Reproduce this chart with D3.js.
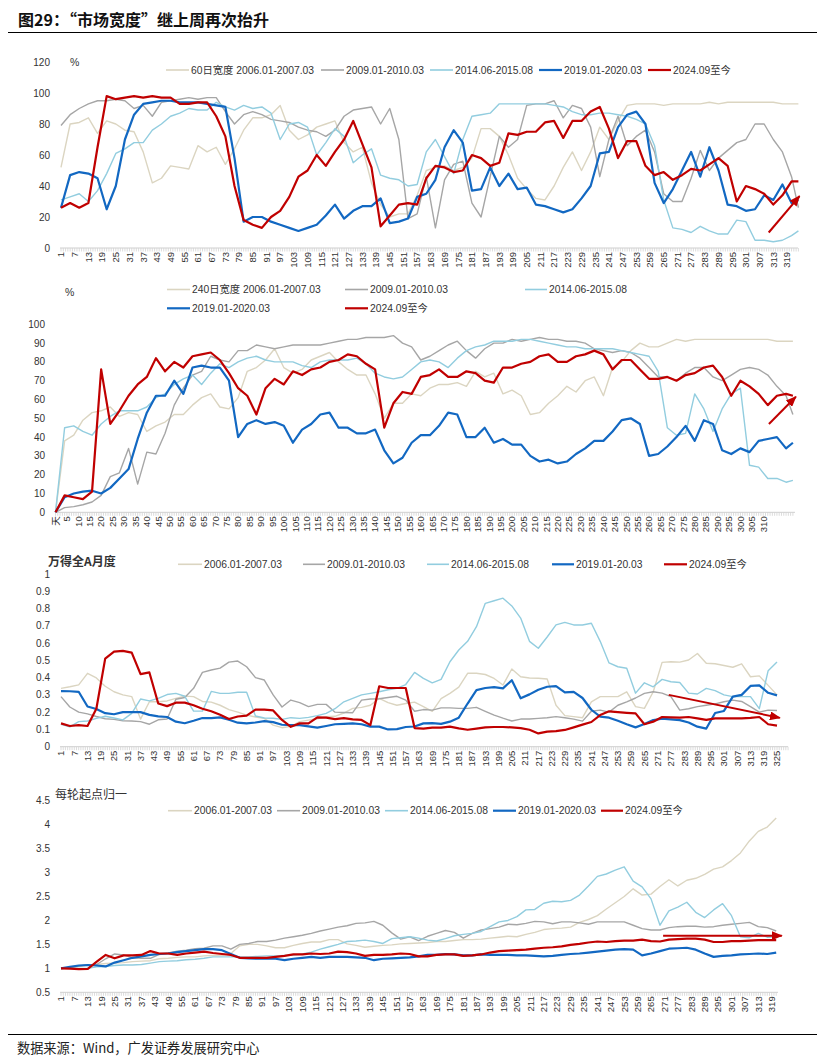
<!DOCTYPE html>
<html><head><meta charset="utf-8">
<script src="https://cdn.jsdelivr.net/npm/d3@7"></script>
<style>body{margin:0;background:#fff}svg{display:block}</style>
</head><body>
<svg id="c" width="833" height="1060"></svg>
<script>
// ---------- DATA (sampled every 4 trading days) ----------
const seriesLabels = ["2006.01-2007.03","2009.01-2010.03","2014.06-2015.08","2019.01-2020.03","2024.09至今"];
const p3SeriesLabels = ["2006.01-2007.03","2009.01-2010.03","2014.06-2015.08","2019.01-20.03","2024.09至今"];

// Panel 1: 60-day breadth (%), categories 1..324
const p1_2006 = [52,80,81,84,74,82,80,76,75,62,42,45,53,52,51,66,62,65,54,64,76,84,84,86,92,76,70,73,78,80,82,68,62,65,42,28,20,22,22,34,50,52,53,50,52,58,77,77,72,60,45,38,32,31,40,52,62,50,62,78,70,82,92,93,93,93,92,93,93,93,93,94,93,94,94,94,94,94,94,93,93,93];
const p1_2009 = [79,86,90,93,95,95,96,95,90,92,85,94,95,96,97,96,97,97,88,80,86,88,86,83,82,81,78,76,75,72,76,85,89,90,91,80,90,70,19,22,46,13,44,54,56,29,20,46,72,65,70,92,93,93,95,84,92,90,78,46,70,85,66,72,76,62,35,30,30,45,63,50,58,63,68,70,80,80,70,62,46,26];
const p1_2014 = [31,33,35,30,37,48,61,64,68,68,76,80,85,87,90,89,89,94,91,89,92,90,91,87,70,80,81,78,60,68,77,72,55,60,64,47,45,44,40,41,62,70,59,48,70,85,86,87,93,93,93,93,93,93,92,91,88,86,86,87,87,86,85,83,80,66,31,13,12,10,14,11,9,9,18,17,5,5,4,5,8,11];
const p1_2019 = [26,47,49,48,45,25,40,70,86,93,94,95,95,94,94,94,93,92,91,58,17,20,20,17,15,13,11,13,15,21,28,19,24,27,27,32,16,17,19,33,35,44,65,76,68,37,38,52,40,48,38,39,28,27,25,23,25,32,40,61,62,78,86,88,80,42,29,38,50,62,46,65,50,28,27,24,25,34,31,41,29,31];
const p1_2024 = [26,29,26,29,65,98,96,97,98,97,98,97,97,93,93,94,94,85,72,40,18,15,13,20,24,33,46,50,60,53,62,70,82,67,52,14,21,28,29,28,45,53,52,49,50,60,58,53,55,74,73,75,75,81,82,71,82,82,88,91,77,58,69,69,53,47,49,44,47,51,50,54,58,53,30,40,38,35,28,34,43,43];
const p1YTicks = [0,20,40,60,80,100,120];

// Panel 2: 240-day breadth (%), categories 天,1..323
const p2_2006 = [0,38,41,49,53,54,56,51,53,52,43,46,48,52,52,57,61,63,56,55,61,75,77,81,87,77,74,76,81,83,85,80,76,73,73,63,50,58,58,63,62,66,68,68,69,67,75,72,74,63,65,62,52,53,58,62,67,64,70,72,62,77,80,86,90,88,88,90,92,91,92,92,92,92,92,92,92,92,92,91,91,91];
const p2_2009 = [0,2.5,3,4,5.5,9,19,21,34,15,32,31,42,57,66,73,75,83,81,80,86,86,89,88,87,88,89,89,89,89,90,91,92,92,93,93,93,94,90,88,81,83,86,89,91,86,82,87,90,90,92,91,92,93,92,92,91,91,90,87,86,85,86,85,82,77,72,72,70,74,77,77,72,70,73,76,77,76,73,67,62,52];
const p2_2014 = [0,45,46,43,41,47,51,54,54,54,56,61,63,68,71,73,68,74,79,77,80,82,83,81,80,80,80,78,77,80,81,81,81,82,79,74,72,71,72,76,80,81,80,77,82,86,88,89,91,91,91,92,92,91,90,89,88,88,87,87,87,87,86,85,84,83,75,45,41,42,63,55,43,55,63,66,25,24,18,18,16,17];
const p2_2019 = [0,8,10,11,11.5,10,13,18,23,39,53,62,62,70,63,77,78,77,77,70,40,47,49,47,48,46,37,44,47,52,53,45,45,42,42,44,33,26,29,37,41,41,46,53,52,40,40,45,37,39,36,36,30,27,28,26,27,31,34,38,38,43,49,50,47,30,31,35,40,46,38,49,47,33,31,34,32,38,39,40,34,37];
const p2_2024 = [0,9,8,7,11,76,47,54,62,68,72,82,75,80,77,83,84,85,81,74,66,62,52,66,71,68,75,73,76,77,80,81,84,83,79,76,45,58,64,63,72,73,76,72,72,75,74,70,69,77,77,79,80,83,84,80,80,83,84,86,84,76,81,81,76,71,71,72,70,73,74,77,78,72,62,70,67,63,57,62,63,62];
const p2YTicks = [0,10,20,30,40,50,60,70,80,90,100];

// Panel 3: 万得全A月度 volatility, categories 1..325
const p3_2006 = [0.338,0.347,0.358,0.425,0.398,0.35,0.318,0.3,0.29,0.16,0.26,0.26,0.265,0.28,0.293,0.29,0.262,0.258,0.24,0.215,0.2,0.183,0.172,0.164,0.125,0.11,0.118,0.145,0.154,0.162,0.174,0.176,0.195,0.222,0.228,0.24,0.28,0.255,0.24,0.25,0.258,0.232,0.205,0.278,0.309,0.345,0.425,0.425,0.418,0.395,0.357,0.45,0.405,0.398,0.396,0.392,0.24,0.18,0.174,0.168,0.26,0.29,0.29,0.29,0.318,0.232,0.222,0.318,0.488,0.492,0.49,0.502,0.54,0.483,0.48,0.47,0.46,0.48,0.405,0.41,0.355,0.3];
const p3_2009 = [0.29,0.23,0.2,0.19,0.175,0.162,0.158,0.15,0.149,0.145,0.13,0.156,0.16,0.275,0.285,0.338,0.43,0.444,0.455,0.49,0.496,0.463,0.4,0.386,0.3,0.23,0.27,0.255,0.232,0.245,0.245,0.2,0.198,0.197,0.27,0.276,0.278,0.285,0.292,0.27,0.205,0.215,0.212,0.225,0.225,0.222,0.222,0.228,0.205,0.183,0.165,0.149,0.16,0.16,0.164,0.168,0.174,0.168,0.16,0.148,0.205,0.212,0.2,0.24,0.26,0.282,0.309,0.318,0.31,0.29,0.212,0.22,0.232,0.24,0.248,0.26,0.27,0.262,0.232,0.2,0.212,0.21];
const p3_2014 = [0.13,0.115,0.145,0.149,0.164,0.176,0.166,0.155,0.193,0.276,0.265,0.28,0.302,0.309,0.292,0.206,0.206,0.32,0.309,0.309,0.315,0.315,0.178,0.166,0.165,0.158,0.168,0.164,0.17,0.18,0.193,0.22,0.26,0.28,0.3,0.309,0.318,0.33,0.338,0.36,0.43,0.396,0.37,0.39,0.492,0.56,0.61,0.695,0.83,0.845,0.86,0.815,0.745,0.61,0.57,0.635,0.705,0.72,0.705,0.705,0.715,0.61,0.485,0.463,0.454,0.31,0.37,0.347,0.39,0.376,0.372,0.31,0.305,0.338,0.325,0.3,0.29,0.29,0.29,0.22,0.44,0.49];
const p3_2019 = [0.322,0.321,0.318,0.233,0.218,0.194,0.188,0.2,0.2,0.2,0.184,0.176,0.172,0.145,0.136,0.15,0.166,0.166,0.17,0.156,0.139,0.135,0.14,0.148,0.142,0.127,0.125,0.125,0.118,0.11,0.12,0.13,0.132,0.135,0.13,0.116,0.116,0.1,0.102,0.114,0.117,0.135,0.136,0.132,0.145,0.168,0.25,0.328,0.34,0.345,0.338,0.385,0.28,0.303,0.33,0.347,0.351,0.315,0.318,0.282,0.214,0.174,0.168,0.15,0.13,0.112,0.131,0.154,0.162,0.158,0.154,0.14,0.116,0.105,0.195,0.207,0.29,0.3,0.352,0.355,0.312,0.297];
const p3_2024 = [0.135,0.12,0.125,0.12,0.22,0.51,0.55,0.555,0.545,0.42,0.43,0.25,0.235,0.255,0.255,0.24,0.22,0.205,0.185,0.16,0.175,0.18,0.215,0.215,0.21,0.155,0.115,0.135,0.135,0.17,0.168,0.16,0.165,0.158,0.155,0.125,0.35,0.34,0.34,0.34,0.108,0.105,0.11,0.11,0.116,0.106,0.098,0.105,0.112,0.114,0.114,0.112,0.108,0.098,0.077,0.087,0.09,0.097,0.112,0.128,0.143,0.183,0.205,0.2,0.196,0.193,0.13,0.145,0.172,0.17,0.168,0.172,0.164,0.155,0.164,0.164,0.164,0.164,0.167,0.172,0.13,0.122];
const p3YTicks = [0,0.1,0.2,0.3,0.4,0.5,0.6,0.7,0.8,0.9,1];

// Panel 4: index normalised to 1 at start, categories 1..321
const p4_2006 = [1.0,1.02,1.04,1.07,1.08,1.1,1.11,1.12,1.14,1.15,1.16,1.2,1.21,1.23,1.24,1.24,1.26,1.27,1.27,1.31,1.47,1.5,1.5,1.47,1.43,1.43,1.48,1.52,1.55,1.55,1.6,1.6,1.51,1.48,1.44,1.46,1.48,1.49,1.51,1.52,1.53,1.54,1.56,1.56,1.58,1.6,1.6,1.61,1.63,1.65,1.67,1.66,1.71,1.75,1.81,1.83,1.84,1.86,1.96,2.02,2.1,2.24,2.37,2.5,2.66,2.53,2.55,2.71,2.85,2.72,2.84,2.88,2.96,3.07,3.12,3.25,3.41,3.66,3.86,3.95,4.14];
const p4_2009 = [1.0,1.02,1.05,1.07,1.08,1.2,1.3,1.28,1.22,1.21,1.21,1.29,1.32,1.36,1.38,1.41,1.42,1.47,1.47,1.4,1.5,1.52,1.56,1.56,1.59,1.63,1.66,1.69,1.73,1.78,1.82,1.86,1.89,1.94,1.95,1.98,1.9,1.74,1.61,1.66,1.58,1.67,1.73,1.79,1.75,1.63,1.73,1.8,1.83,1.86,1.92,1.91,1.94,1.98,1.97,1.93,1.97,1.97,1.95,1.92,1.97,1.97,1.97,1.97,1.9,1.83,1.8,1.8,1.85,1.87,1.88,1.88,1.86,1.87,1.9,1.92,1.94,1.96,1.87,1.85,1.78];
const p4_2014 = [1.0,1.0,1.0,1.0,1.03,1.04,1.06,1.07,1.07,1.08,1.11,1.14,1.15,1.16,1.18,1.19,1.21,1.24,1.24,1.24,1.24,1.24,1.25,1.26,1.26,1.27,1.28,1.3,1.34,1.4,1.45,1.5,1.56,1.57,1.59,1.56,1.52,1.62,1.64,1.66,1.63,1.59,1.57,1.62,1.68,1.71,1.73,1.77,1.87,1.97,2.0,2.08,2.22,2.23,2.36,2.4,2.39,2.42,2.53,2.72,2.92,2.97,3.05,3.12,2.82,2.7,2.45,1.9,2.2,2.28,2.38,2.17,2.06,2.22,2.35,2.1,1.66,1.64,1.73,1.65,1.66];
const p4_2019 = [1.0,1.03,1.06,1.07,1.06,1.04,1.12,1.17,1.22,1.25,1.28,1.3,1.31,1.34,1.36,1.38,1.4,1.4,1.38,1.3,1.22,1.21,1.2,1.2,1.2,1.17,1.2,1.22,1.24,1.22,1.24,1.24,1.24,1.23,1.22,1.17,1.2,1.21,1.22,1.23,1.25,1.28,1.28,1.3,1.29,1.27,1.27,1.29,1.28,1.28,1.28,1.27,1.27,1.26,1.25,1.26,1.28,1.3,1.31,1.33,1.35,1.37,1.39,1.4,1.39,1.27,1.31,1.36,1.41,1.42,1.43,1.39,1.31,1.24,1.26,1.27,1.29,1.3,1.31,1.3,1.33];
const p4_2024 = [1.0,0.995,0.985,0.99,1.14,1.28,1.21,1.27,1.27,1.28,1.36,1.31,1.31,1.28,1.31,1.33,1.35,1.32,1.3,1.28,1.22,1.22,1.22,1.22,1.24,1.26,1.29,1.29,1.31,1.3,1.31,1.35,1.34,1.31,1.26,1.28,1.28,1.29,1.31,1.3,1.25,1.25,1.28,1.29,1.29,1.26,1.27,1.29,1.33,1.36,1.37,1.38,1.39,1.41,1.43,1.44,1.46,1.49,1.51,1.54,1.56,1.55,1.57,1.58,1.58,1.6,1.57,1.56,1.6,1.61,1.62,1.62,1.6,1.55,1.55,1.57,1.57,1.58,1.59,1.59,1.59];
const p4YTicks = [0.5,1,1.5,2,2.5,3,3.5,4,4.5];

// x tick labels
const p1XLabels = d3.range(1, 320, 6);
const p2XLabels = [0].concat(d3.range(5, 311, 5));
const p3XLabels = d3.range(1, 326, 6);
const p4XLabels = d3.range(1, 320, 6);

// ---------- STYLE ----------
const FONT = '"Liberation Sans", Arial, "Noto Sans CJK SC", sans-serif';
const CJK = '"Noto Sans CJK SC", sans-serif';
const colors = ['#dbd5c1','#a6a6a6','#92cddf','#1268c2','#c00000'];
const widths = [1.4,1.4,1.4,2.2,2.2];
const TXT = '#333';

const svg = d3.select('#c');
const defs = svg.append('defs');
defs.append('marker').attr('id','arr').attr('markerUnits','userSpaceOnUse')
  .attr('markerWidth',11).attr('markerHeight',9).attr('refX',10).attr('refY',4.5).attr('orient','auto')
  .append('path').attr('d','M0,0 L11,4.5 L0,9 Z').attr('fill','#c00000');

// title
svg.append('text').attr('x',18).attr('y',26).attr('font-family',CJK).attr('font-weight','bold')
  .attr('font-size',16).attr('fill','#111').text('图29：“市场宽度”继上周再次抬升');
svg.append('line').attr('x1',8).attr('x2',817).attr('y1',32.5).attr('y2',32.5).attr('stroke','#000').attr('stroke-width',1.2);
svg.append('line').attr('x1',8).attr('x2',817).attr('y1',1034.5).attr('y2',1034.5).attr('stroke','#000').attr('stroke-width',1.2);
svg.append('text').attr('x',17).attr('y',1053).attr('font-family',CJK).attr('font-size',13.2)
  .attr('fill','#222').text('数据来源：Wind，广发证券发展研究中心');

function drawPanel(p) {
  const g = svg.append('g');
  const x = d3.scaleLinear().domain(p.xDomain).range(p.xRange);
  const y = d3.scaleLinear().domain(p.yDomain).range(p.yRange);
  const y0 = y(p.yDomain[0]);
  // y labels
  g.selectAll('text.yl').data(p.yTicks).join('text').attr('class','yl')
    .attr('x', p.yLabelX).attr('y', d => y(d)).attr('dy','0.35em')
    .attr('text-anchor','end').attr('font-size',10).attr('font-family',FONT).attr('fill',TXT)
    .text(d => d);
  // axis
  g.append('line').attr('x1',p.axisX[0]).attr('x2',p.axisX[1]).attr('y1',y0).attr('y2',y0)
    .attr('stroke','#cfcfcf').attr('stroke-width',1);
  g.selectAll('line.tk').data(d3.range(p.tickCats[0], p.tickCats[1] + 1)).join('line').attr('class','tk')
    .attr('x1', d => x(d)).attr('x2', d => x(d)).attr('y1', y0).attr('y2', y0 + 3.5)
    .attr('stroke','#d3d3d3').attr('stroke-width',0.8);
  g.selectAll('text.xl').data(p.xLabels).join('text').attr('class','xl')
    .attr('transform', d => `translate(${x(d)},${y0 + p.labelGap}) rotate(-90)`)
    .attr('text-anchor','end').attr('dy','0.35em').attr('font-size',p.xFont)
    .attr('font-family',FONT).attr('fill',TXT).text(d => p.xLabelText ? p.xLabelText(d) : d);
  // series
  const line = d3.line().x(d => x(d[0])).y(d => y(d[1])).curve(d3.curveLinear);
  p.series.forEach((arr, s) => {
    const pts = arr.map((v, k) => [Math.min(p.start + k * p.step, p.last), v]);
    g.append('path').datum(pts).attr('d', line).attr('fill','none')
      .attr('stroke', colors[s]).attr('stroke-width', widths[s]).attr('stroke-linejoin','round');
  });
  // arrow
  g.append('line').attr('x1', x(p.arrow[0][0])).attr('y1', y(p.arrow[0][1]))
    .attr('x2', x(p.arrow[1][0])).attr('y2', y(p.arrow[1][1]))
    .attr('stroke','#c00000').attr('stroke-width',2).attr('marker-end','url(#arr)');
  // legend
  p.legend.forEach((it, s) => {
    g.append('line').attr('x1', it[0]).attr('x2', it[1]).attr('y1', it[2]).attr('y2', it[2])
      .attr('stroke', colors[s]).attr('stroke-width', s >= 3 ? 2.2 : 1.6);
    g.append('text').attr('x', it[1] + 2).attr('y', it[2]).attr('dy','0.35em')
      .attr('font-size',10.3).attr('font-family',FONT).attr('fill',TXT).text(it[3]);
  });
  if (p.unit) g.append('text').attr('x', p.unit[0]).attr('y', p.unit[1]).attr('dy','0.35em')
      .attr('font-size',10.5).attr('font-family',FONT).attr('fill',TXT).text('%');
  if (p.title) g.append('text').attr('x', p.title[0]).attr('y', p.title[1]).attr('dy','0.35em')
      .attr('font-size',12).attr('font-weight',p.title[3]).attr('font-family',CJK).attr('fill','#333').text(p.title[2]);
}

drawPanel({
  series:[p1_2006,p1_2009,p1_2014,p1_2019,p1_2024], start:1, step:4, last:324,
  xDomain:[1,324], xRange:[61,798.4], yDomain:[0,120], yRange:[248,62], yTicks:p1YTicks, yLabelX:50,
  axisX:[60,798], tickCats:[1,324], xLabels:p1XLabels, labelGap:4, xFont:9.5,
  arrow:[[311,10],[324.5,33.5]], unit:[70,62],
  legend:[[166,189,70,'60日宽度 '+seriesLabels[0]],[321,344,70,seriesLabels[1]],[430,453,70,seriesLabels[2]],
          [539,562,70,seriesLabels[3]],[648,671,70,seriesLabels[4]]]
});
drawPanel({
  series:[p2_2006,p2_2009,p2_2014,p2_2019,p2_2024], start:0, step:4, last:323,
  xDomain:[0,323], xRange:[55.5,792.9], yDomain:[0,100], yRange:[512.3,324.3], yTicks:p2YTicks, yLabelX:45,
  axisX:[55,795], tickCats:[0,323], xLabels:p2XLabels, labelGap:4, xFont:9.5,
  xLabelText: d => d === 0 ? '天' : d,
  arrow:[[312.5,47],[324.3,61.5]], unit:[65,292.5],
  legend:[[167,190,289.5,'240日宽度 '+seriesLabels[0]],[345,368,289.5,seriesLabels[1]],[525,547,289.5,seriesLabels[2]],
          [167,190,308.3,seriesLabels[3]],[345,368,308.3,seriesLabels[4]]]
});
drawPanel({
  series:[p3_2006,p3_2009,p3_2014,p3_2019,p3_2024], start:1, step:4, last:325,
  xDomain:[1,325], xRange:[61,777], yDomain:[0,1], yRange:[746.7,574], yTicks:p3YTicks, yLabelX:50,
  axisX:[60,788], tickCats:[1,330], xLabels:p3XLabels, labelGap:4, xFont:9.5,
  arrow:[[276,0.3],[326.3,0.167]], title:[48,562,'万得全A月度','bold'],
  legend:[[178,202,564.3,p3SeriesLabels[0]],[303,325,564.3,p3SeriesLabels[1]],[427,449,564.3,p3SeriesLabels[2]],
          [552,574,564.3,p3SeriesLabels[3]],[664,687,564.3,p3SeriesLabels[4]]]
});
drawPanel({
  series:[p4_2006,p4_2009,p4_2014,p4_2019,p4_2024], start:1, step:4, last:321,
  xDomain:[1,321], xRange:[61,776.2], yDomain:[0.5,4.5], yRange:[992.3,800.7], yTicks:p4YTicks, yLabelX:50,
  axisX:[60,778], tickCats:[1,321], xLabels:p4XLabels, labelGap:4, xFont:9.5,
  arrow:[[270.4,1.68],[323.5,1.68]], title:[55,795,'每轮起点归一','normal'],
  legend:[[168,192,810.7,seriesLabels[0]],[277,300,810.7,seriesLabels[1]],[385,408,810.7,seriesLabels[2]],
          [493,516,810.7,seriesLabels[3]],[601,623,810.7,seriesLabels[4]]]
});
</script>
</body></html>
